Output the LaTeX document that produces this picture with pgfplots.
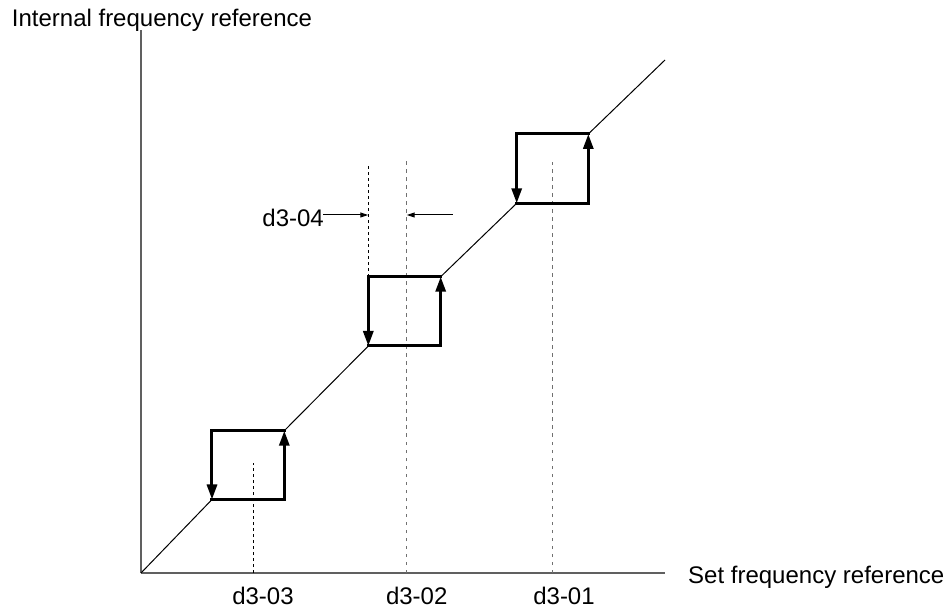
\documentclass[border=0pt]{standalone}
\usepackage{pgfplots}
\pgfplotsset{compat=1.18}
\usetikzlibrary{arrows.meta}
\usepackage{fontspec}
\setmainfont{Liberation Sans}
\definecolor{axgray}{HTML}{606060}
\definecolor{dotgray}{HTML}{707070}
\tikzset{lab/.style={inner sep=0pt, font=\fontsize{24bp}{28bp}\selectfont}}
\begin{document}
\begin{tikzpicture}
\useasboundingbox (-141bp,-36bp) rectangle (807bp,573bp);
\begin{axis}[
  at={(0,0)}, anchor=south west,
  scale only axis, width=524bp, height=543bp,
  xmin=0, xmax=524, ymin=0, ymax=543,
  axis lines=left, axis line style={-, draw=axgray, line width=1.5bp},
  ticks=none, clip=false,
  box/.style={black, line width=3bp, no marks, line cap=rect},
  boxarrow/.style={black, line width=3bp, no marks, -{Triangle[length=15bp,width=10bp]}},
  diag/.style={black, line width=1bp, no marks},
  blackdash/.style={black, line width=1.1bp, no marks, dash pattern=on 3bp off 3bp},
  graydot/.style={dotgray, line width=1.3bp, no marks, dash pattern=on 3.5bp off 4.5bp},
]
% diagonal segments
\addplot[diag] coordinates {(0,0) (71,73.5)};
\addplot[diag] coordinates {(143.3,142.3) (227.3,227)};
\addplot[diag] coordinates {(299.7,296.3) (375.7,369.7)};
\addplot[diag] coordinates {(447.3,439) (524,513)};
% vertical reference lines
\addplot[blackdash] coordinates {(112.3,0) (112.3,110)};
\addplot[graydot] coordinates {(265.7,0) (265.7,413)};
\addplot[graydot] coordinates {(411.3,0) (411.3,411.3)};
\addplot[blackdash] coordinates {(227.3,296.3) (227.3,408)};
% hysteresis boxes (d3-03)
\addplot[box] coordinates {(71,73.5) (143.3,73.5)};
\addplot[box] coordinates {(71,142.3) (143.3,142.3)};
\addplot[boxarrow] coordinates {(143.3,73.5) (143.3,142.3)};
\addplot[boxarrow] coordinates {(71,142.3) (71,73.5)};
% d3-02
\addplot[box] coordinates {(227.3,227) (299.7,227)};
\addplot[box] coordinates {(227.3,296.3) (299.7,296.3)};
\addplot[boxarrow] coordinates {(299.7,227) (299.7,296.3)};
\addplot[boxarrow] coordinates {(227.3,296.3) (227.3,227)};
% d3-01
\addplot[box] coordinates {(375.7,369.7) (447.3,369.7)};
\addplot[box] coordinates {(375.7,439) (447.3,439)};
\addplot[boxarrow] coordinates {(447.3,369.7) (447.3,439)};
\addplot[boxarrow] coordinates {(375.7,439) (375.7,369.7)};
% d3-04 width arrows
\addplot[black, line width=1bp, no marks, -{Triangle[length=8bp,width=5bp]}] coordinates {(182,358) (227.3,358)};
\addplot[black, line width=1bp, no marks, -{Triangle[length=8bp,width=5bp]}] coordinates {(311.7,358) (265.7,358)};
% labels
\node[lab, anchor=base east] at (axis cs:183,346.3) {d3-04};
\node[lab, anchor=base] at (axis cs:122,-31) {d3-03};
\node[lab, anchor=base] at (axis cs:275.7,-31) {d3-02};
\node[lab, anchor=base] at (axis cs:423,-31) {d3-01};
\node[lab, anchor=base west] at (axis cs:547,-10) {Set frequency reference};
\node[lab, anchor=base west] at (axis cs:-129.3,546.3) {Internal frequency reference};
\end{axis}
\end{tikzpicture}
\end{document}
